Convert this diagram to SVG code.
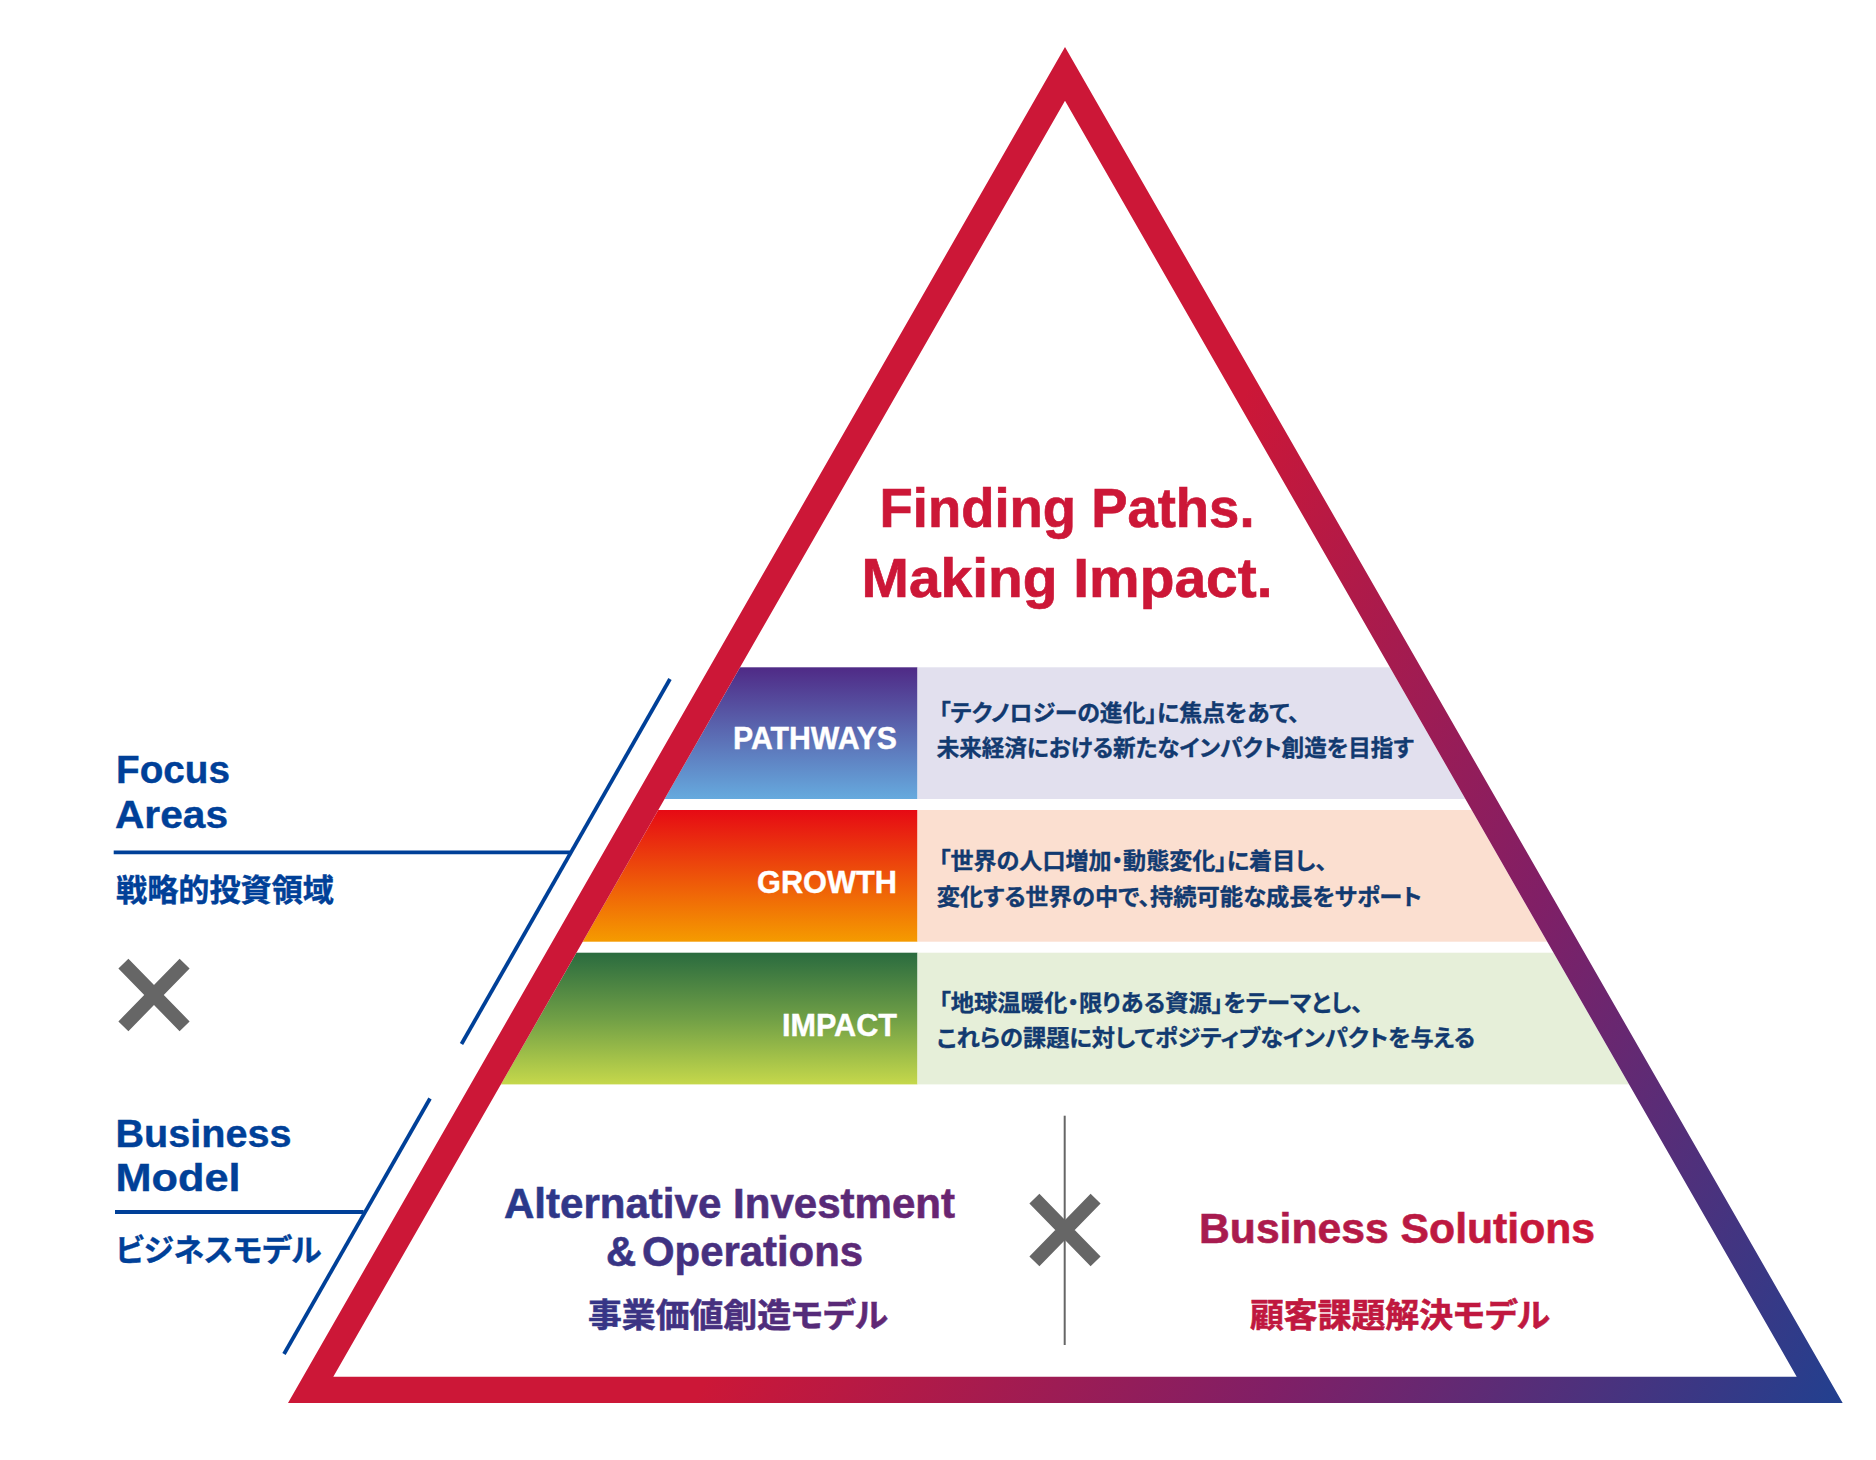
<svg xmlns="http://www.w3.org/2000/svg" width="1876" height="1460" viewBox="0 0 1876 1460">
<style>
text{font-family:"Liberation Sans","Noto Sans CJK JP",sans-serif;font-weight:700}
.jp{font-family:"Noto Sans CJK JP","Liberation Sans",sans-serif;font-feature-settings:"palt"}
.head{font-size:56px;fill:#cc1737;stroke:#cc1737;stroke-width:.7}
.band{font-size:30.5px;fill:#fff;stroke:#fff;stroke-width:.4}
.desc{font-size:22.5px;fill:#123a70;stroke:#123a70;stroke-width:.35}
.side{font-size:39px;fill:#004098;stroke:#004098;stroke-width:.4}
.sidejp{font-size:31px;fill:#004098;stroke:#004098;stroke-width:.4}
.rule{stroke:#004098;stroke-width:3.8;fill:none}
.cross{stroke:#666;stroke-width:14;fill:none}
.model{font-size:43px}
.modeljp{font-size:33px}
.ta{fill:url(#ta);stroke:url(#ta);stroke-width:.6}
.tb{fill:url(#tb);stroke:url(#tb);stroke-width:.6}
</style>
<defs>
<linearGradient id="frame" gradientUnits="userSpaceOnUse" x1="700" y1="1390" x2="1583" y2="1873"><stop offset="0" stop-color="#cc1737"/><stop offset=".5" stop-color="#801f66"/><stop offset="1" stop-color="#22408f"/></linearGradient>
<linearGradient id="gp" x1="0" y1="0" x2="0" y2="1"><stop offset="0" stop-color="#4f2a86"/><stop offset="1" stop-color="#66aade"/></linearGradient>
<linearGradient id="gg" x1="0" y1="0" x2="0" y2="1"><stop offset="0" stop-color="#e60a14"/><stop offset="1" stop-color="#f59b00"/></linearGradient>
<linearGradient id="gi" x1="0" y1="0" x2="0" y2="1"><stop offset="0" stop-color="#2a6b3f"/><stop offset=".5" stop-color="#709f46"/><stop offset="1" stop-color="#c5d84b"/></linearGradient>
<linearGradient id="ta" gradientUnits="userSpaceOnUse" x1="504" y1="0" x2="955" y2="0"><stop offset="0" stop-color="#273a8c"/><stop offset="1" stop-color="#6b2470"/></linearGradient>
<linearGradient id="tb" gradientUnits="userSpaceOnUse" x1="1200" y1="0" x2="1594" y2="0"><stop offset="0" stop-color="#a61b50"/><stop offset="1" stop-color="#cc1737"/></linearGradient>
<clipPath id="inner"><path d="M1065 100.7L1796.7 1376.7H333.3Z"/></clipPath>
</defs>
<g id="bands" clip-path="url(#inner)">
<rect x="300" y="667.3" width="617.5" height="131.7" fill="url(#gp)"/>
<rect x="917.5" y="667.3" width="900" height="131.7" fill="#e2e0ee"/>
<rect x="300" y="810" width="617.5" height="131.7" fill="url(#gg)"/>
<rect x="917.5" y="810" width="900" height="131.7" fill="#fbdfd0"/>
<rect x="300" y="952.7" width="617.5" height="131.7" fill="url(#gi)"/>
<rect x="917.5" y="952.7" width="900" height="131.7" fill="#e6efd9"/>
</g>
<g id="pyramid-frame"><path fill-rule="evenodd" fill="url(#frame)" d="M1065 47L1842.7 1403H288Z M1065 100.7L333.3 1376.7H1796.7Z"/></g>
<g id="headline">
<text class="head" x="879.5" y="527" textLength="375" lengthAdjust="spacingAndGlyphs">Finding Paths.</text>
<text class="head" x="861.5" y="597" textLength="411" lengthAdjust="spacingAndGlyphs">Making Impact.</text>
</g>
<g id="pathways">
<text class="band" x="733" y="749" textLength="164" lengthAdjust="spacingAndGlyphs">PATHWAYS</text>
<text class="desc jp" x="939" y="720.5" textLength="360.5" lengthAdjust="spacingAndGlyphs">「テクノロジーの進化」に焦点をあて、</text>
<text class="desc jp" x="936.7" y="756" textLength="477" lengthAdjust="spacingAndGlyphs">未来経済における新たなインパクト創造を目指す</text>
</g>
<g id="growth">
<text class="band" x="757" y="893" textLength="140" lengthAdjust="spacingAndGlyphs">GROWTH</text>
<text class="desc jp" x="939" y="868.5" textLength="388" lengthAdjust="spacingAndGlyphs">「世界の人口増加・動態変化」に着目し、</text>
<text class="desc jp" x="936.7" y="905" textLength="485" lengthAdjust="spacingAndGlyphs">変化する世界の中で、持続可能な成長をサポート</text>
</g>
<g id="impact">
<text class="band" x="782" y="1036" textLength="115" lengthAdjust="spacingAndGlyphs">IMPACT</text>
<text class="desc jp" x="939" y="1010.5" textLength="424" lengthAdjust="spacingAndGlyphs">「地球温暖化・限りある資源」をテーマとし、</text>
<text class="desc jp" x="937" y="1046" textLength="538" lengthAdjust="spacingAndGlyphs">これらの課題に対してポジティブなインパクトを与える</text>
</g>
<g id="focus-areas">
<text class="side" x="116" y="783" textLength="114" lengthAdjust="spacingAndGlyphs">Focus</text>
<text class="side" x="115" y="828.4" textLength="113" lengthAdjust="spacingAndGlyphs">Areas</text>
<text class="sidejp jp" x="116" y="900.5" textLength="218" lengthAdjust="spacingAndGlyphs">戦略的投資領域</text>
</g>
<g id="business-model">
<text class="side" x="115.5" y="1147" textLength="176" lengthAdjust="spacingAndGlyphs">Business</text>
<text class="side" x="115.5" y="1191" textLength="125" lengthAdjust="spacingAndGlyphs">Model</text>
<text class="sidejp jp" x="115.5" y="1260.5" textLength="206" lengthAdjust="spacingAndGlyphs">ビジネスモデル</text>
</g>
<g id="connectors">
<path class="rule" d="M113.7 852.3H570"/>
<path class="rule" d="M670 679L461.5 1044"/>
<path class="rule" d="M115 1212H363.6"/>
<path class="rule" d="M430 1098.5L284 1354"/>
<path d="M1064.7 1115.7V1345" stroke="#666" stroke-width="2" fill="none"/>
</g>
<g id="cross-left"><path class="cross" d="M123.4 963.7L184.6 1026.3M184.6 963.7L123.4 1026.3"/></g>
<g id="cross-center"><path class="cross" d="M1034.4 1198.7L1095.6 1261.3M1095.6 1198.7L1034.4 1261.3"/></g>
<g id="alternative-investment">
<text class="model ta" x="504" y="1218" textLength="451" lengthAdjust="spacingAndGlyphs">Alternative Investment</text>
<text class="model ta" style="word-spacing:-6px" x="606" y="1266" textLength="257" lengthAdjust="spacingAndGlyphs">&amp; Operations</text>
<text class="modeljp jp ta" x="588" y="1326.5" textLength="300" lengthAdjust="spacingAndGlyphs">事業価値創造モデル</text>
</g>
<g id="business-solutions">
<text class="model tb" x="1199" y="1242.7" textLength="396" lengthAdjust="spacingAndGlyphs">Business Solutions</text>
<text class="modeljp jp" fill="#c0183f" stroke="#c0183f" stroke-width=".6" x="1250" y="1326.5" textLength="300" lengthAdjust="spacingAndGlyphs">顧客課題解決モデル</text>
</g>
</svg>
